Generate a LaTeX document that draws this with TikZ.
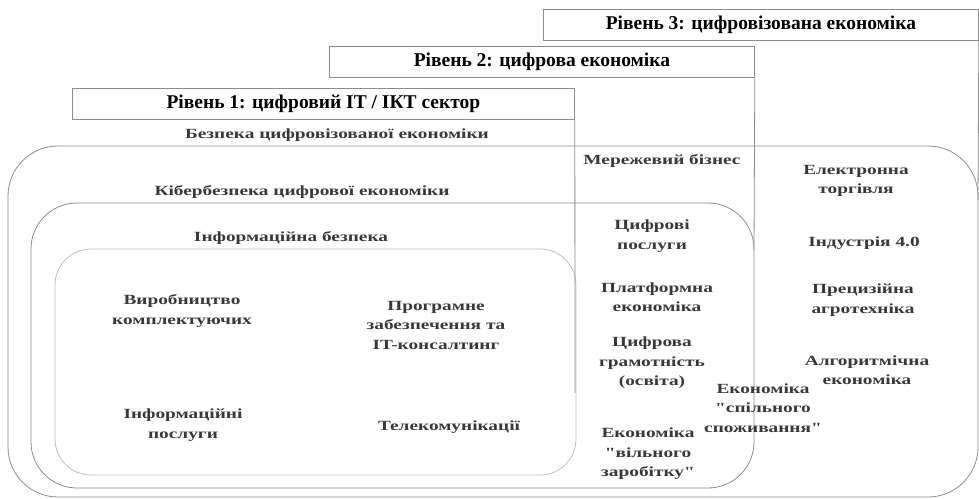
\documentclass[tikz,border=0pt]{standalone}
\usepackage{fontspec}
\usepackage{xcolor}
\setmainfont{Liberation Serif}
\newfontfamily\bodyfont{Liberation Serif}[FakeStretch=1.38]
\definecolor{linegray}{gray}{0.55}
\definecolor{lightline}{gray}{0.75}
\definecolor{textgray}{gray}{0.22}

\begin{document}
\begin{tikzpicture}[x=1pt,y=-1pt,thin,
    level box/.style={draw=linegray,line width=0.8pt,minimum height=31pt,anchor=north west,inner sep=0pt,font=\bfseries\fontsize{19.5}{21}\selectfont},
    item/.style={align=center,inner sep=0pt,text=textgray,font=\bodyfont\bfseries\fontsize{14}{19.5}\selectfont},
    frame/.style={draw=linegray,line width=0.8pt,rounded corners=46pt}]

    \useasboundingbox (0,0) rectangle (979,498);

    % levels
    \node[level box, minimum width=435pt] (lvl3) at (543,9) {Рівень 3: цифровізована економіка};
    \node[level box, minimum width=425pt] (lvl2) at (329,46) {Рівень 2: цифрова економіка};
    \node[level box, minimum width=502pt] (lvl1) at (72,88) {Рівень 1: цифровий IT / ІКТ сектор};

    % frames
    \draw[frame, rounded corners=50pt] (8,146) rectangle (978,497);
    \draw[frame] (31,203) rectangle (754,488);
    \draw[frame, draw=lightline, rounded corners=36pt] (55,249) rectangle (576,475);

    \coordinate (r3) at (978,200);
    \coordinate (r2) at (754,250);
    \coordinate (r1) at (575,393);
    \draw[linegray, line width=0.8pt] (lvl3.south east) -- (r3);
    \draw[linegray, line width=0.8pt] (lvl2.south east) -- (r2);
    \draw[linegray, line width=0.8pt] (lvl1.south east) -- (r1);

    % security layers
    \node[item] (bez) at (337,135) {Безпека цифровізованої економіки};
    \node[item] (kib) at (302,192) {Кібербезпека цифрової економіки};
    \node[item] (inf) at (291,238) {Інформаційна безпека};

    % level 1
    \node[item] (vyr) at (182,311) {Виробництво\\комплектуючих};
    \node[item] (prog) at (436,325) {Програмне\\забезпечення та\\IT-консалтинг};
    \node[item] (infpos) at (183,425) {Інформаційні\\послуги};
    \node[item] (tel) at (449,427) {Телекомунікації};

    % level 2
    \node[item] (mer) at (662,161) {Мережевий бізнес};
    \node[item] (cyfpos) at (652,236) {Цифрові\\послуги};
    \node[item] (plat) at (657,297) {Платформна\\економіка};
    \node[item] (cyfgr) at (652,363) {Цифрова\\грамотність\\(освіта)};
    \node[item] (ekvil) at (648,454) {Економіка\\"вільного\\заробітку"};
    \node[item] (ekspil) at (763,408) {Економіка\\"спільного\\споживання"};

    % level 3
    \node[item] (el) at (856,181) {Електронна\\торгівля};
    \node[item] (ind) at (864,243) {Індустрія 4.0};
    \node[item] (prec) at (863,300) {Прецизійна\\агротехніка};
    \node[item] (alg) at (867,370) {Алгоритмічна\\економіка};
\end{tikzpicture}
\end{document}
